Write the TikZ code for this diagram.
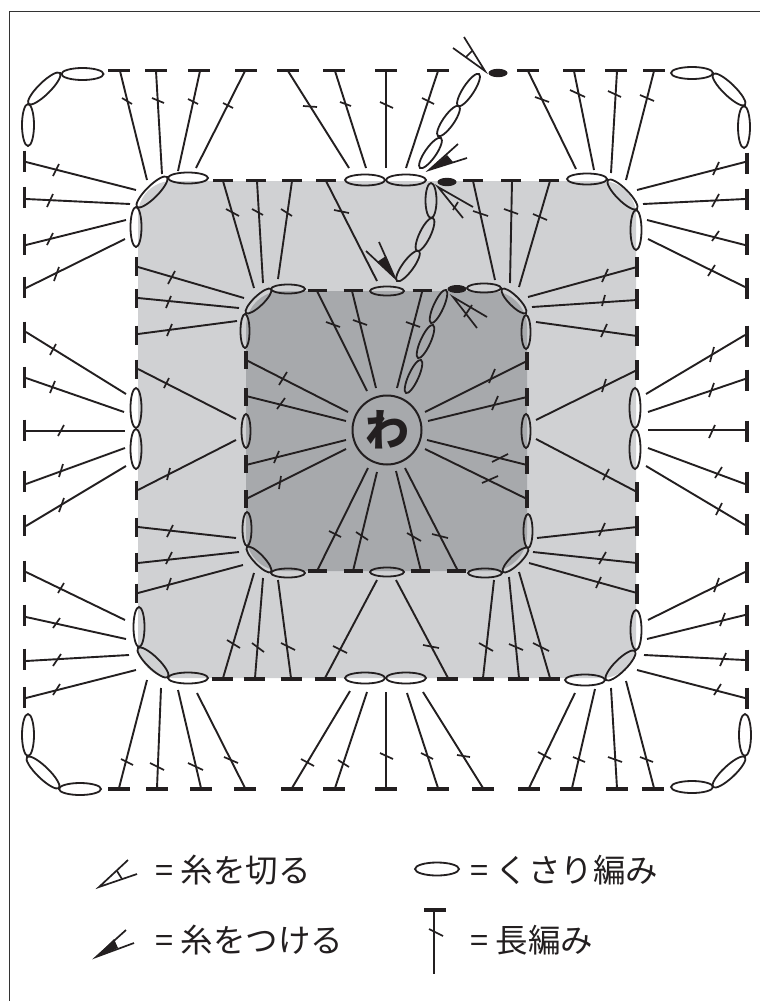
\documentclass[tikz,border=0pt]{standalone}
\usepackage{fontspec}
\setmainfont{Noto Sans CJK JP}
\definecolor{ink}{HTML}{231F20}
\definecolor{midgray}{HTML}{D0D1D3}
\definecolor{darkgray}{HTML}{A7A9AC}
\tikzset{
  stem/.style={draw=ink,line width=1.9pt},
  stemthick/.style={draw=ink,line width=2.8pt},
  tick/.style={draw=ink,line width=1.7pt},
  barline/.style={draw=ink,line width=3.4pt},
  loopline/.style={draw=ink,line width=1.8pt},
  legendtext/.style={anchor=west,inner sep=0pt,text=ink,font=\fontsize{32.5}{33}\selectfont},
}
\newcommand{\chainoval}[5]{%
  \pgfmathsetmacro{\ovdx}{#3-#1}\pgfmathsetmacro{\ovdy}{#2-#4}%
  \pgfmathsetmacro{\ovang}{atan2(\ovdy,\ovdx)}%
  \pgfmathsetmacro{\ovlen}{veclen(\ovdx,\ovdy)/2}%
  \path[loopline,shift={({(#1+#3)/2},{(#2+#4)/2})},rotate=\ovang] (0,0) ellipse [x radius=\ovlen pt,y radius=#5pt];}
\newcommand{\cutmark}[9]{%
  \draw[tick] (#3,#4)--(#1,#2)--(#5,#6);\draw[tick] (#7,#8)--#9;}
\begin{document}
\begin{tikzpicture}[x=1pt,y=-1pt]
\useasboundingbox (0,0) rectangle (760,1001);
\fill[white] (0,0) rectangle (760,1001);
\draw[draw=black!80,line width=1.1pt] (9.5,1001)--(9.5,11.5)--(760,11.5);
% shaded rounds
\fill[midgray,rounded corners=34pt] (138,181) rectangle (636,678);
\fill[darkgray,rounded corners=36pt] (246,291) rectangle (527,571);
% stems: bar end x,y inner end x,y tick x1,y1,x2,y2
\foreach \a/\b/\c/\d/\e/\f/\g/\h in {
 120/71/147/180/122/98/132/104, 156/71/162/174/152/98/164/103, 200/71/178/171/188/99/198/104, 245/71/196/168/223/103/233/108,
 288/71/349/168/303/106/317/107, 335/71/366/168/340/102/351/106, 438/71/406/168/422/98/434/104,
 528/71/576/169/535/97/549/102, 574/71/594/170/570/90/585/97, 617/71/611/173/608/91/621/97, 654/71/626/180/640/95/654/101,
 26/162/136/190/53/176/59/164, 26/199/130/204/47/207/53/194, 26/245/126/220/47/245/53/233, 26/288/125/239/54/281/59/267,
 26/332/126/394/50/355/56/344, 26/378/124/412/50/393/55/381, 26/431/125/431/58/436/64/425, 26/484/125/448/59/477/63/464, 26/526/126/466/59/512/64/498,
 26/572/125/620/58/593/64/583, 26/617/126/639/53/628/60/618, 26/661/129/655/53/666/61/654, 26/698/136/670/53/695/60/684,
 745/162/637/190/713/175/719/162, 745/199/643/204/712/207/719/194, 745/245/647/220/712/241/719/231, 745/287/648/239/708/276/715/265,
 745/335/646/394/710/362/714/347, 745/379/648/412/709/397/714/383, 745/484/648/448/715/478/722/467, 745/525/646/466/716/515/722/503,
 745/572/648/620/714/592/719/578, 745/615/647/639/720/626/725/613, 745/660/644/655/720/666/726/653, 745/698/637/670/714/695/721/684,
 119/788/147/680/121/759/133/765, 157/788/161/688/150/763/164/770, 201/788/178/690/188/763/203/770, 245/788/197/693/224/757/238/763,
 292/788/350/691/301/759/314/766, 335/788/367/692/338/760/349/767, 438/788/407/693/421/753/433/759, 483/788/423/692/457/755/470/757,
 529/788/575/693/538/752/551/759, 572/788/595/689/573/757/585/762, 617/788/611/688/608/757/622/762, 654/788/626/681/640/757/653/762,
 223/181/254/288/226/209/239/216, 257/181/263/283/252/209/263/215, 292/181/278/279/281/209/292/216, 326/181/377/281/334/210/349/213,
 473/181/495/280/473/211/488/216, 512/181/510/283/504/209/518/214, 550/181/519/287/533/214/547/220,
 138/267/244/298/168/284/175/271, 138/298/239/308/166/308/171/296, 138/334/237/321/167/336/172/324, 138/369/236/419/164/388/169/378,
 138/490/236/440/167/480/170/468, 138/527/236/538/167/537/173/525, 138/563/239/552/166/564/172/552, 138/593/243/565/167/590/171/578,
 637/267/528/297/602/282/608/269, 637/300/532/307/602/306/605/295, 637/336/536/322/601/337/607/324, 637/370/536/420/602/392/606/379,
 637/492/536/439/603/480/609/469, 637/527/537/538/599/536/605/523, 637/563/533/552/599/564/606/552, 637/593/529/563/596/588/601/577,
 223/678/254/573/227/640/240/648, 255/678/263/578/252/643/264/652, 291/678/278/580/281/643/295/650, 325/678/377/580/333/646/347/653,
 448/678/396/580/423/645/439/648, 483/678/494/580/479/643/493/651, 519/678/509/577/509/644/523/650, 550/678/519/572/533/643/549/651,
 317/291/367/391/326/322/340/327, 352/291/376/388/353/320/367/325, 422/292/397/388/406/322/420/327,
 246/360/348/412/279/385/287/372, 246/396/346/421/277/409/285/398, 246/465/346/440/274/463/279/451, 246/499/346/449/279/489/281/476,
 527/361/425/412/489/383/495/369, 527/397/428/421/492/410/498/396, 527/465/427/440/492/462/508/454, 527/499/425/449/482/483/498/476,
 317/571/368/468/329/531/341/537, 353/571/377/472/356/532/368/540, 421/571/396/471/407/533/421/541, 458/571/405/468/432/534/448/538}
 {\draw[stem] (\a,\b)--(\c,\d);\draw[tick] (\e,\f)--(\g,\h);}
% thick stems
\draw[stemthick] (386,71)--(386,168);
\draw[tick] (380,102)--(393,108);
\draw[stemthick] (386,788)--(386,692);
\draw[tick] (380,753)--(393,759);
\draw[stemthick] (745,430)--(648,430);
\draw[tick] (709,438)--(715,425);
% horizontal bars
\foreach \x/\y/\w in {119/70.5/11,156/70.5/11,199/70.5/11,246/70.5/11,288/70.5/11,334/70.5/11,386/70.5/11,438/70.5/11,528/70.5/11,574/70.5/11,616/70.5/11,654/70.5/11,
 119/789/11,157/789/11,201/789/11,245/789/11,292/789/11,334/789/11,386/789/11,438/789/11,483/789/11,529/789/11,571/789/11,617/789/11,653/789/11,
 223/180.5/10,256/180.5/10,292/180.5/10,326/180.5/10,473/180.5/10,511/180.5/10,549/180.5/10,
 222/679/10.5,254/679/10.5,291/679/10.5,325/679/10.5,447/679/10.5,483/679/10.5,518/679/10.5,549/679/10.5,
 317/290.5/9.5,353/290.5/9.5,422/290.5/9.5,
 317/571/9.5,353/571/9.5,420/571/9.5,456/571/9.5}
 {\draw[barline] ({\x-\w},\y)--({\x+\w},\y);}
% vertical bars
\foreach \x/\y/\w in {24.5/161/10.5,24.5/197/10.5,24.5/244/10.5,24.5/287/10.5,24.5/332/10.5,24.5/377/10.5,24.5/430/10.5,24.5/481/10.5,24.5/525/10.5,24.5/571/10.5,24.5/615/10.5,24.5/659/10.5,24.5/697/10.5,
 747/163/10.5,747/199/10.5,747/244/10.5,747/288/10.5,747/336/10.5,747/380/10.5,747/431/10.5,747/482/10.5,747/524/10.5,747/572/10.5,747/615/10.5,747/660/10.5,747/698/10.5,
 136.5/266.5/9.5,136.5/298/9.5,136.5/335/9.5,136.5/369/9.5,136.5/490/9.5,136.5/527/9.5,136.5/562/9.5,136.5/593/9.5,
 637/267/10,637/299/10,637/336/10,637/370/10,637/492/10,637/526/10,637/563/10,637/594/10,
 246/360/9,246/397/9,246/464/9,246/499/9,
 527/361/9,527/397/9,527/465/9,527/499/9}
 {\draw[barline] (\x,{\y-\w})--(\x,{\y+\w});}
% chain stitches, by end points
\foreach \a/\b/\c/\d/\rr in {
 61.5/74/103.5/74/6, 28.5/104/60/73/6, 28/104/28/146/6,
 671/73/713/73/6, 713/74/745/105/6, 744/106/744/148/6,
 28/714/28/756/6, 27/757/59/788/6, 59/789/101/789/6,
 671/787/713/787/6, 713/787/745/757/6, 745/714/745/756/6,
 168/178/208/178/5.5, 137/207/167/177/6, 136/207/136/247/5.5,
 345/180/385/180/5.5, 386/180/426/180/5.5, 567/179/607/179/5.5, 608/180/637/209/6, 636/210/636/250/5.5,
 136/388/136/428/5.5, 136/429/136/469/5.5, 635/388/635/428/5.5, 635/429/635/469/5.5,
 139/607/139/647/5.5, 138/648/168/677/6, 168/678/208/678/5.5,
 636/610/636/650/5.5, 635/651/606/680/6, 565/680/605/680/5.5, 345/678/385/678/5.5, 386/678/426/678/5.5,
 271/289/305/289/4.5, 246/313/271/289/5, 245/314/245/348/4.5, 370/291/404/291/4.5,
 467/288/501/288/4.5, 502/289/526/313/5, 526/315/526/349/4.5,
 246/414/246/448/4.5, 526/414/526/448/4.5,
 247/512/247/546/4.5, 247/547/271/572/5, 271/573/305/573/4.5, 370/572/404/572/4.5,
 468/573/502/573/4.5, 503/572/528/548/5, 528/514/528/548/4.5,
 458/106/479/74/5.5, 438/136/459/106/5.5, 420/168/441/138/5.5,
 431/183/431/218/5.5, 417/251/433/218/5.5, 397/281/419/251/5.5,
 431/323/446/290/5, 418/358/433/325/5, 406/393/421/360/5}
 {\chainoval{\a}{\b}{\c}{\d}{\rr}}
% fastening-off dots
\fill[ink] (498,73) ellipse [x radius=9.5pt,y radius=4.2pt];
\fill[ink] (447,182) ellipse [x radius=9.5pt,y radius=4.2pt];
\fill[ink] (457,289) ellipse [x radius=9.5pt,y radius=4pt];
% cut marks
\cutmark{485}{71}{464}{37}{453}{48}{472}{51}{(466,57)}
\cutmark{438}{187}{473}{207}{463}{218}{458}{202}{(453,210)}
\cutmark{453}{297}{487}{317}{477}{328}{472}{305}{(464,317)}
\cutmark{99}{887}{128}{860}{137}{874}{117}{871}{(122,879)}
% join marks
\draw[tick] (458,144)--(429,170)--(467,158);
\fill[ink] (429,170)--(447,155)--(453,162)--cycle;
\draw[tick] (379,242)--(395,278)--(366,251);
\fill[ink] (395,278)--(377,262)--(386,256)--cycle;
\draw[tick] (126,930)--(96,957)--(134,943);
\fill[ink] (96,957)--(114,939)--(118,948)--cycle;
% centre ring
\node[circle,draw=ink,line width=2pt,minimum size=69pt,inner sep=0pt,text=ink,font=\fontsize{44}{44}\selectfont\bfseries] (ring) at (387,430) {わ};
% legend
\path[loopline] (437,869) ellipse [x radius=22pt,y radius=6.5pt];
\draw[barline] (424,910)--(446,910);
\draw[stem,line width=2.4pt] (434,910)--(434,974);
\draw[tick] (429,929)--(443,936);
\node[legendtext] (t1) at (155,870) {= 糸を切る};
\node[legendtext] (t2) at (155,940) {= 糸をつける};
\node[legendtext] (t3) at (470,870) {= くさり編み};
\node[legendtext] (t4) at (470,940) {= 長編み};
\end{tikzpicture}
\end{document}
